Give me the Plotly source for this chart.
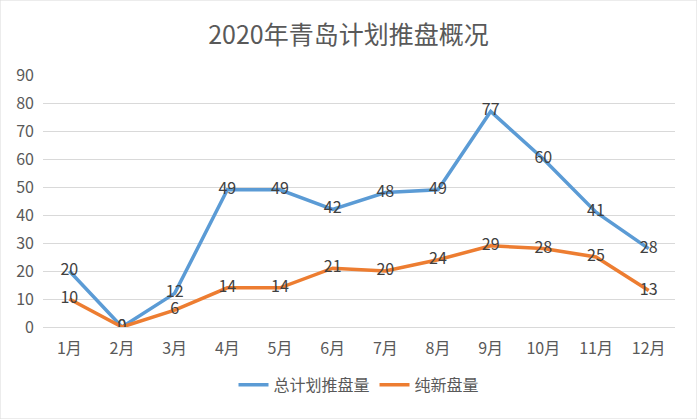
import plotly.graph_objects as go

months = ["1月", "2月", "3月", "4月", "5月", "6月", "7月", "8月", "9月", "10月", "11月", "12月"]
total_plan = [20, 0, 12, 49, 49, 42, 48, 49, 77, 60, 41, 28]
new_only = [10, 0, 6, 14, 14, 21, 20, 24, 29, 28, 25, 13]
y_ticks = [0, 10, 20, 30, 40, 50, 60, 70, 80, 90]

FONT = "Noto Sans CJK SC"
fig = go.Figure()
fig.add_trace(go.Scatter(
    x=months, y=total_plan, name="总计划推盘量", mode="lines+text",
    line=dict(color="#5b9bd5", width=3.5),
    text=[str(v) for v in total_plan], textposition="middle center",
    textfont=dict(size=16, color="#404040", family=FONT),
))
fig.add_trace(go.Scatter(
    x=months, y=new_only, name="纯新盘量", mode="lines+text",
    line=dict(color="#ed7d31", width=3.5),
    text=[str(v) for v in new_only], textposition="middle center",
    textfont=dict(size=16, color="#404040", family=FONT),
))

fig.update_layout(
    width=697, height=419,
    margin=dict(l=43, r=22, t=75, b=92),
    paper_bgcolor="white", plot_bgcolor="white",
    font=dict(family=FONT, size=16, color="#595959"),
    title=dict(text="2020年青岛计划推盘概况", x=0.5, xanchor="center", y=0.916, yanchor="middle",
               font=dict(size=25, color="#595959", family=FONT)),
    showlegend=True,
    legend=dict(orientation="h", x=0.5, xanchor="center", y=-0.23, yanchor="middle",
                font=dict(size=16, color="#595959", family=FONT), itemwidth=30),
    xaxis=dict(type="category", range=[-0.5, 11.5], showgrid=False, showline=False,
               ticks="", ticklabelstandoff=10, tickfont=dict(size=16, color="#595959")),
    yaxis=dict(range=[0, 90], tickvals=y_ticks, showgrid=True, gridcolor="#d9d9d9",
               gridwidth=1, zeroline=True, zerolinecolor="#d9d9d9", zerolinewidth=1,
               showline=False, ticks="", ticklabelstandoff=8,
               tickfont=dict(size=16, color="#595959")),
    shapes=[dict(type="rect", xref="paper", yref="paper", x0=-43/632, x1=1+22/632,
                 y0=-92/252, y1=1+75/252, line=dict(color="#d9d9d9", width=1))],
)
fig.write_html("out.html")
